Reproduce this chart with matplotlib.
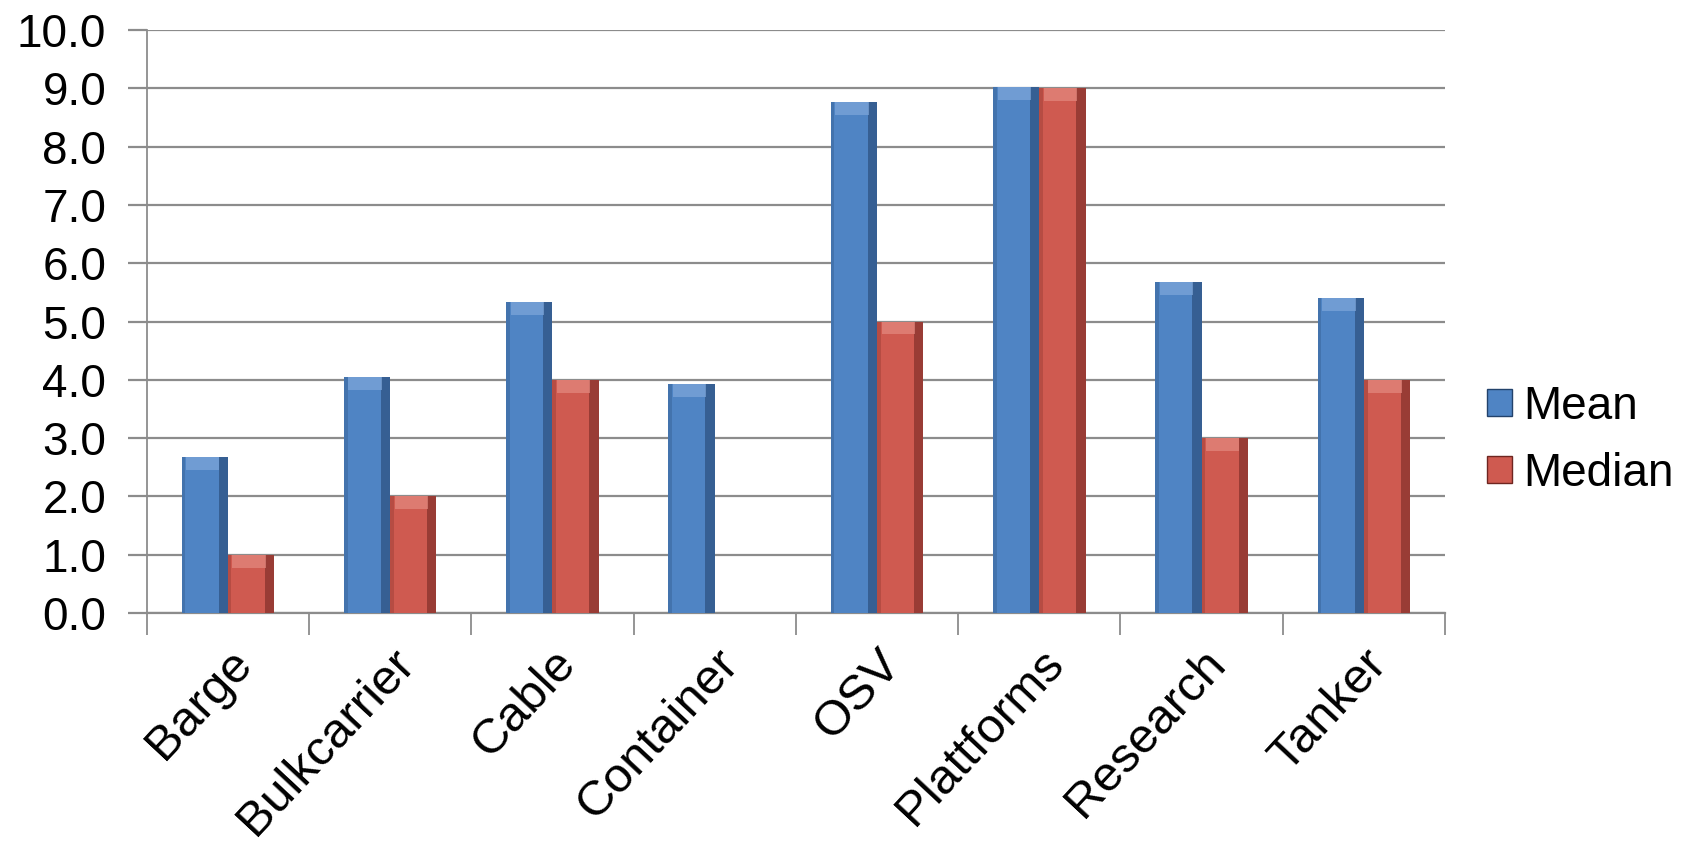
import matplotlib.pyplot as plt
from matplotlib.patches import Patch
import numpy as np

categories = ['Barge', 'Bulkcarrier', 'Cable', 'Container', 'OSV',
              'Plattforms', 'Research', 'Tanker']
mean_vals = [2.68, 4.04, 5.33, 3.92, 8.76, 9.02, 5.67, 5.40]
median_vals = [1.0, 2.0, 4.0, 0.0, 5.0, 9.0, 3.0, 4.0]
yticks = np.arange(0, 10.5, 1.0)

blue, blue_dk, blue_lt = '#4F84C4', '#22426B', '#7FA7DA'
red, red_dk, red_lt = '#CF5A50', '#6E2520', '#E48A80'

plt.rcParams['font.family'] = ['Liberation Sans', 'DejaVu Sans']

fig = plt.figure(figsize=(16.99, 8.5), dpi=100)
ax = fig.add_axes([0.0863, 0.2788, 0.7642, 0.6859])

x = np.arange(len(categories))
w = 0.285


def bevel_bars(xs, vals, face, dark, light):
    vals = np.array(vals)
    ax.bar(xs, vals, w, color=face, zorder=3)
    # dark right side and lighter top, gives the old office look
    ax.bar(xs + w * 0.40, vals, w * 0.20, color=dark, alpha=0.55, zorder=4)
    ax.bar(xs - w * 0.46, vals, w * 0.08, color=dark, alpha=0.25, zorder=4)
    top = np.where(vals > 0, 0.22, 0)
    ax.bar(xs - w * 0.04, top, w * 0.72, bottom=vals - top,
           color=light, alpha=0.7, zorder=5)


bevel_bars(x - w / 2, mean_vals, blue, blue_dk, blue_lt)
bevel_bars(x + w / 2, median_vals, red, red_dk, red_lt)

ax.set_xlim(-0.5, len(categories) - 0.5)
ax.set_ylim(0, 10)
ax.set_yticks(yticks)
ax.set_yticklabels(['%.1f' % v for v in yticks], fontsize=33)
ax.yaxis.grid(True, color='#8C8C8C', linewidth=1.6, zorder=0)
ax.set_axisbelow(True)

ax.set_xticks(x)
ax.set_xticklabels(categories, fontsize=35.5, rotation=47, ha='right',
                   rotation_mode='anchor')
ax.tick_params(axis='x', length=0, pad=20)
for lab in ax.get_xticklabels():
    lab.set_x(lab.get_position()[0] + 0.16)
ax.set_xticks(np.arange(-0.5, len(categories), 1.0), minor=True)
ax.tick_params(axis='x', which='minor', length=16, color='#8C8C8C', width=1.3)
ax.tick_params(axis='y', length=14, color='#8C8C8C', width=1.6, pad=15)

for s in ['top', 'right']:
    ax.spines[s].set_visible(False)
ax.spines['left'].set_color('#8C8C8C')
ax.spines['bottom'].set_color('#8C8C8C')
ax.spines['left'].set_linewidth(1.3)
ax.spines['bottom'].set_linewidth(1.6)

handles = [Patch(facecolor=blue, edgecolor=blue_dk, label='Mean'),
           Patch(facecolor=red, edgecolor=red_dk, label='Median')]
fig.legend(handles=handles, loc='center left', bbox_to_anchor=(0.875, 0.482),
           frameon=False, fontsize=33, handlelength=0.55, handleheight=0.55,
           handletextpad=0.25, labelspacing=0.5, borderpad=0,
           borderaxespad=0)

fig.savefig('out.png', dpi=100)
